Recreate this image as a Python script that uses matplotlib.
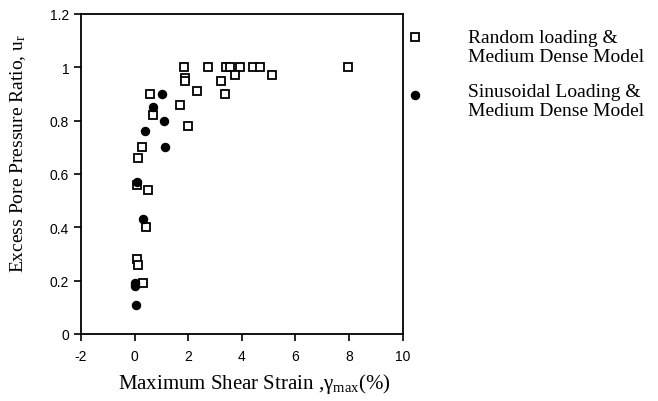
import matplotlib
matplotlib.use("Agg")
import matplotlib.pyplot as plt

# Random loading & Medium Dense Model (open squares)
rand_x = [1.84, 2.75, 3.40, 3.55, 3.94, 4.43, 4.66, 7.97, 1.88, 1.88, 2.34, 3.22, 3.39, 3.73,
          5.13, 0.56, 1.70, 0.68, 2.00, 0.28, 0.13, 0.10, 0.51, 0.41, 0.10, 0.12, 0.30]
rand_y = [1.00, 1.00, 1.00, 1.00, 1.00, 1.00, 1.00, 1.00, 0.96, 0.95, 0.91, 0.95, 0.90, 0.97,
          0.97, 0.90, 0.86, 0.82, 0.78, 0.70, 0.66, 0.56, 0.54, 0.40, 0.28, 0.26, 0.19]

# Sinusoidal Loading & Medium Dense Model (filled circles)
sin_x = [1.02, 0.68, 1.09, 0.38, 1.12, 0.10, 0.30, 0.00, 0.03, 0.07]
sin_y = [0.90, 0.85, 0.80, 0.76, 0.70, 0.57, 0.43, 0.18, 0.19, 0.11]

legend_labels = ["Random loading &\nMedium Dense Model",
                 "Sinusoidal Loading &\nMedium Dense Model"]
x_ticks = [-2, 0, 2, 4, 6, 8, 10]
y_ticks = [0, 0.2, 0.4, 0.6, 0.8, 1, 1.2]
y_tick_labels = ["0", "0.2", "0.4", "0.6", "0.8", "1", "1.2"]

serif = "Liberation Serif"
plt.rcParams["mathtext.fontset"] = "custom"
plt.rcParams["mathtext.rm"] = "Liberation Serif"
plt.rcParams["mathtext.it"] = "Liberation Serif:italic"
plt.rcParams["mathtext.bf"] = "Liberation Serif:bold"

fig = plt.figure(figsize=(6.58, 4.02), dpi=100)
ax = fig.add_axes([0.123, 0.1667, 0.489, 0.796])

ax.plot(rand_x, rand_y, linestyle="none", marker="s", markersize=5.8,
        markerfacecolor="white", markeredgecolor="black", markeredgewidth=1.3)
ax.plot(sin_x, sin_y, linestyle="none", marker="o", markersize=5.8,
        markerfacecolor="black", markeredgecolor="black")

ax.set_xlim(-2, 10)
ax.set_ylim(0, 1.2)
ax.set_xticks(x_ticks)
ax.set_xticklabels([str(t) for t in x_ticks], family="Liberation Sans", fontsize=10)
ax.set_yticks(y_ticks)
ax.set_yticklabels(y_tick_labels, family="Liberation Sans", fontsize=10)
ax.tick_params(direction="out", length=5, width=1.2, colors="black")
ax.tick_params(axis="x", pad=6)
for s in ax.spines.values():
    s.set_linewidth(1.3)

ax.set_xlabel(r"Maximum Shear Strain ,$\mathrm{γ}_{\mathrm{max}}$(%)", family=serif,
              fontsize=15)
ax.xaxis.set_label_coords(0.539, -0.115)
ax.set_ylabel(r"Excess Pore Pressure Ratio, u$_{\mathrm{r}}$", family=serif,
              fontsize=14)
ax.yaxis.set_label_coords(-0.165, 0.566)

# legend drawn outside on the right
fig.lines.append(plt.Line2D([415 / 658], [1 - 38 / 402], transform=fig.transFigure,
                            marker="s", markersize=5.5, markerfacecolor="white",
                            markeredgecolor="black", markeredgewidth=1.3, linestyle="none"))
fig.lines.append(plt.Line2D([415 / 658], [1 - 96 / 402], transform=fig.transFigure,
                            marker="o", markersize=5.8, markerfacecolor="black",
                            markeredgecolor="black", linestyle="none"))
fig.text(468 / 658, 1 - 48 / 402, legend_labels[0], family=serif, fontsize=14,
         va="center", ha="left", linespacing=1.15)
fig.text(468 / 658, 1 - 102 / 402, legend_labels[1], family=serif, fontsize=14,
         va="center", ha="left", linespacing=1.15)

fig.savefig("out.png", dpi=100)
